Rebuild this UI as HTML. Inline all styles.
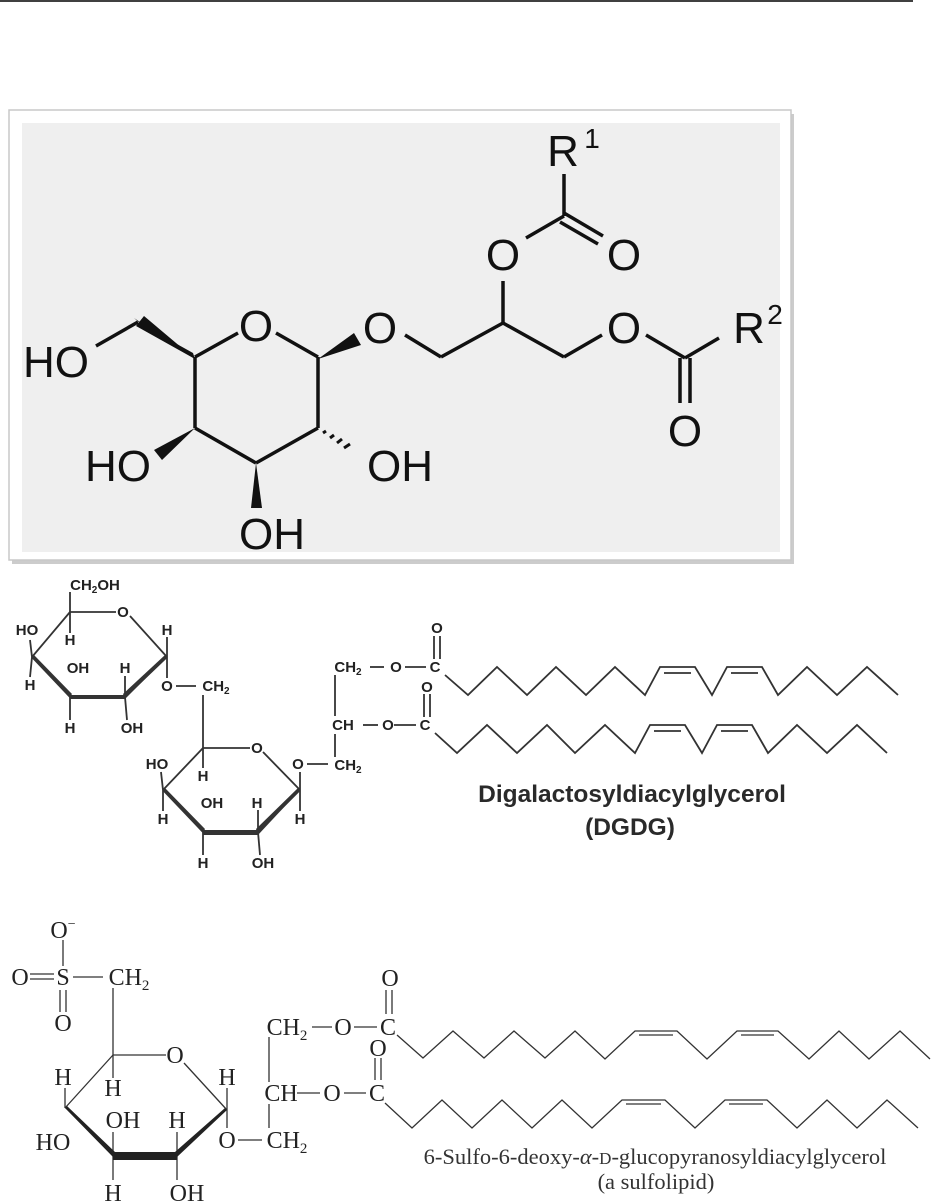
<!DOCTYPE html>
<html><head><meta charset="utf-8"><style>
html,body{margin:0;padding:0;background:#fff;}
svg{display:block;}
.a{font-family:"Liberation Sans",sans-serif;font-size:44px;fill:#111;}
.b{font-family:"Liberation Sans",sans-serif;font-size:15px;font-weight:bold;fill:#222;}
.s{font-family:"Liberation Serif",serif;font-size:24px;fill:#222;}
</style></head><body>
<svg width="931" height="1203" viewBox="0 0 931 1203" xmlns="http://www.w3.org/2000/svg">
<line x1="0" y1="1" x2="913" y2="1" stroke="#000" stroke-width="1.5"/>
<rect x="12" y="114" width="782" height="450" fill="#9a9a9a" opacity="0.5"/>
<rect x="9" y="110" width="782" height="450" fill="#fff" stroke="#c8c8c8" stroke-width="1.5"/>
<rect x="22" y="123" width="758" height="429" fill="#efefef"/>
<g stroke="#111" stroke-width="3.5" fill="none">
<line x1="195" y1="357" x2="238" y2="333"/>
<line x1="276" y1="333" x2="318" y2="357"/>
<line x1="318" y1="357" x2="318" y2="428"/>
<line x1="318" y1="428" x2="256" y2="463"/>
<line x1="256" y1="463" x2="195" y2="428"/>
<line x1="195" y1="428" x2="195" y2="357"/>
<line x1="138" y1="322" x2="96" y2="346"/>
<line x1="405" y1="335" x2="441" y2="357"/>
<line x1="441" y1="357" x2="503" y2="323"/>
<line x1="503" y1="323" x2="564" y2="357"/>
<line x1="564" y1="357" x2="602" y2="335"/>
<line x1="503" y1="323" x2="503" y2="281"/>
<line x1="526" y1="238" x2="564" y2="216"/>
<line x1="564" y1="216" x2="564" y2="174"/>
<line x1="564" y1="213" x2="603" y2="236"/>
<line x1="560" y1="222" x2="598" y2="244"/>
<line x1="646" y1="335" x2="685" y2="358"/>
<line x1="685" y1="358" x2="719" y2="338"/>
<line x1="680" y1="358" x2="680" y2="403"/>
<line x1="690" y1="358" x2="690" y2="403"/>
</g>
<g fill="#111">
<polygon points="195,359 134,318 141,324 193,353"/>
<polygon points="195,359 136,326 144,316"/>
<polygon points="318,359 354,333 361,345"/>
<polygon points="195,428 154,450 162,460"/>
<polygon points="256,463 251,508 262,508"/>
</g>
<g stroke="#111" stroke-width="3">
<line x1="323" y1="433" x2="326" y2="431"/>
<line x1="330" y1="438" x2="334" y2="435"/>
<line x1="337" y1="443" x2="342" y2="439"/>
<line x1="344" y1="448" x2="350" y2="444"/>
</g>
<text class="a" x="256" y="341" text-anchor="middle">O</text>
<text class="a" x="380" y="343" text-anchor="middle">O</text>
<text class="a" x="56" y="377" text-anchor="middle">HO</text>
<text class="a" x="118" y="481" text-anchor="middle">HO</text>
<text class="a" x="400" y="481" text-anchor="middle">OH</text>
<text class="a" x="272" y="549" text-anchor="middle">OH</text>
<text class="a" x="503" y="270" text-anchor="middle">O</text>
<text class="a" x="624" y="270" text-anchor="middle">O</text>
<text class="a" x="563" y="166" text-anchor="middle">R</text>
<text class="a" x="592" y="148" text-anchor="middle" style="font-size:28px">1</text>
<text class="a" x="624" y="343" text-anchor="middle">O</text>
<text class="a" x="749" y="343" text-anchor="middle">R</text>
<text class="a" x="775" y="324" text-anchor="middle" style="font-size:28px">2</text>
<text class="a" x="685" y="446" text-anchor="middle">O</text>

<g stroke="#333" stroke-width="1.8" fill="none">
<line x1="70" y1="612" x2="116" y2="612"/>
<line x1="130" y1="616" x2="167" y2="657"/>
<line x1="167" y1="657" x2="125" y2="697"/>
<line x1="70" y1="697" x2="32" y2="657"/>
<line x1="32" y1="657" x2="70" y2="612"/>
<line x1="70" y1="612" x2="70" y2="592"/>
<line x1="70" y1="612" x2="70" y2="633"/>
<line x1="32" y1="657" x2="30" y2="640"/>
<line x1="32" y1="657" x2="30" y2="677"/>
<line x1="70" y1="697" x2="70" y2="720"/>
<line x1="125" y1="697" x2="125" y2="676"/>
<line x1="125" y1="697" x2="127" y2="720"/>
<line x1="167" y1="657" x2="167" y2="637"/>
<line x1="167" y1="657" x2="167" y2="678"/>
<line x1="176" y1="686" x2="196" y2="686"/>
<line x1="203" y1="695" x2="203" y2="748"/>
<line x1="203" y1="748" x2="250" y2="748"/>
<line x1="263" y1="752" x2="300" y2="790"/>
<line x1="300" y1="790" x2="258" y2="832"/>
<line x1="203" y1="832" x2="163" y2="790"/>
<line x1="163" y1="790" x2="203" y2="748"/>
<line x1="203" y1="748" x2="203" y2="768"/>
<line x1="163" y1="790" x2="161" y2="772"/>
<line x1="163" y1="790" x2="163" y2="811"/>
<line x1="203" y1="832" x2="203" y2="855"/>
<line x1="258" y1="832" x2="258" y2="810"/>
<line x1="258" y1="832" x2="260" y2="855"/>
<line x1="300" y1="790" x2="300" y2="772"/>
<line x1="300" y1="790" x2="300" y2="811"/>
<line x1="307" y1="764" x2="328" y2="764"/>
<line x1="335" y1="675" x2="335" y2="716"/>
<line x1="335" y1="734" x2="335" y2="757"/>
<line x1="370" y1="667" x2="384" y2="667"/>
<line x1="363" y1="725" x2="378" y2="725"/>
<line x1="405" y1="667" x2="426" y2="667"/>
<line x1="394" y1="725" x2="416" y2="725"/>
<line x1="434" y1="636" x2="434" y2="659"/>
<line x1="440" y1="636" x2="440" y2="659"/>
<line x1="424" y1="694" x2="424" y2="717"/>
<line x1="430" y1="694" x2="430" y2="717"/>
<polyline points="445,675 468,695 497,667 527,695 556,667 586,695 615,667 645,695 660,667 695,667 712,695 727,667 762,667 778,695 807,667 837,695 867,667 898,695"/>
<line x1="664" y1="673" x2="691" y2="673"/>
<line x1="731" y1="673" x2="758" y2="673"/>
<polyline points="435,733 457,753 487,725 517,753 547,725 575,753 605,725 635,753 650,725 685,725 702,753 717,725 752,725 768,753 797,725 827,753 857,725 887,753"/>
<line x1="654" y1="731" x2="681" y2="731"/>
<line x1="721" y1="731" x2="748" y2="731"/>
</g>
<g fill="#333">
<polygon points="70,695 125,695 125,699 70,699"/>
<polygon points="70,697 32,657 34,655 72,694"/>
<polygon points="125,699 167,657 165,655 123,694"/>
<polygon points="203,830 258,830 258,835 203,835"/>
<polygon points="203,833 163,790 165,788 205,829"/>
<polygon points="258,835 300,790 298,788 256,829"/>
</g>
<g class="b" text-anchor="middle">
<text x="95" y="590">CH<tspan font-size="10" dy="3">2</tspan><tspan dy="-3">OH</tspan></text>
<text x="123" y="617">O</text>
<text x="27" y="635">HO</text>
<text x="70" y="645">H</text>
<text x="167" y="635">H</text>
<text x="30" y="690">H</text>
<text x="78" y="673">OH</text>
<text x="125" y="673">H</text>
<text x="70" y="733">H</text>
<text x="132" y="733">OH</text>
<text x="167" y="691">O</text>
<text x="216" y="691">CH<tspan font-size="10" dy="3">2</tspan></text>
<text x="257" y="753">O</text>
<text x="157" y="769">HO</text>
<text x="203" y="781">H</text>
<text x="212" y="808">OH</text>
<text x="257" y="808">H</text>
<text x="163" y="824">H</text>
<text x="300" y="824">H</text>
<text x="203" y="868">H</text>
<text x="263" y="868">OH</text>
<text x="298" y="769">O</text>
<text x="348" y="770">CH<tspan font-size="10" dy="3">2</tspan></text>
<text x="348" y="672">CH<tspan font-size="10" dy="3">2</tspan></text>
<text x="396" y="672">O</text>
<text x="435" y="672">C</text>
<text x="437" y="633">O</text>
<text x="343" y="730">CH</text>
<text x="388" y="730">O</text>
<text x="425" y="730">C</text>
<text x="427" y="692">O</text>
</g>
<text x="632" y="802" text-anchor="middle" style="font-family:'Liberation Sans',sans-serif;font-weight:bold;font-size:24.5px;fill:#2a2a2a">Digalactosyldiacylglycerol</text>
<text x="630" y="835" text-anchor="middle" style="font-family:'Liberation Sans',sans-serif;font-weight:bold;font-size:24.5px;fill:#2a2a2a">(DGDG)</text>

<g stroke="#333" stroke-width="1.3" fill="none">
<line x1="63" y1="940" x2="63" y2="966"/>
<line x1="30" y1="974" x2="54" y2="974"/>
<line x1="30" y1="979" x2="54" y2="979"/>
<line x1="60" y1="990" x2="60" y2="1012"/>
<line x1="66" y1="990" x2="66" y2="1012"/>
<line x1="73" y1="977" x2="103" y2="977"/>
<line x1="113" y1="988" x2="113" y2="1055"/>
<line x1="113" y1="1055" x2="166" y2="1055"/>
<line x1="184" y1="1063" x2="227" y2="1110"/>
<line x1="113" y1="1055" x2="65" y2="1108"/>
<line x1="113" y1="1055" x2="113" y2="1078"/>
<line x1="65" y1="1108" x2="65" y2="1088"/>
<line x1="113" y1="1157" x2="113" y2="1180"/>
<line x1="177" y1="1157" x2="177" y2="1132"/>
<line x1="177" y1="1157" x2="177" y2="1180"/>
<line x1="113" y1="1157" x2="113" y2="1132"/>
<line x1="227" y1="1110" x2="227" y2="1088"/>
<line x1="227" y1="1110" x2="227" y2="1128"/>
<line x1="238" y1="1140" x2="262" y2="1140"/>
<line x1="269" y1="1037" x2="269" y2="1082"/>
<line x1="269" y1="1104" x2="269" y2="1128"/>
<line x1="312" y1="1027" x2="332" y2="1027"/>
<line x1="354" y1="1027" x2="377" y2="1027"/>
<line x1="297" y1="1093" x2="320" y2="1093"/>
<line x1="344" y1="1093" x2="366" y2="1093"/>
<line x1="386" y1="990" x2="386" y2="1014"/>
<line x1="392" y1="990" x2="392" y2="1014"/>
<line x1="375" y1="1058" x2="375" y2="1080"/>
<line x1="381" y1="1058" x2="381" y2="1080"/>
<polyline points="397,1035 423,1058 453,1031 484,1058 514,1031 545,1058 575,1031 605,1059 635,1031 677,1031 707,1059 737,1031 778,1031 809,1059 839,1031 869,1059 900,1031 930,1059"/>
<line x1="639" y1="1035" x2="673" y2="1035"/>
<line x1="741" y1="1035" x2="774" y2="1035"/>
<polyline points="385,1103 412,1128 442,1100 472,1128 502,1100 532,1128 562,1100 592,1128 622,1100 665,1100 695,1128 725,1100 767,1100 797,1128 827,1100 857,1128 887,1100 918,1128"/>
<line x1="626" y1="1104" x2="661" y2="1104"/>
<line x1="729" y1="1104" x2="763" y2="1104"/>
</g>
<polygon points="65,1108 113,1157 177,1157 227,1110 225,1108 175,1152 115,1152 67,1106" fill="#222"/>
<polygon points="113,1152 177,1152 177,1160 113,1160" fill="#222"/>
<g class="s" text-anchor="middle">
<text x="63" y="938">O<tspan font-size="14" dy="-10">−</tspan></text>
<text x="63" y="985">S</text>
<text x="20" y="985">O</text>
<text x="63" y="1031">O</text>
<text x="129" y="985">CH<tspan font-size="15" dy="5">2</tspan></text>
<text x="175" y="1063">O</text>
<text x="63" y="1085">H</text>
<text x="113" y="1096">H</text>
<text x="227" y="1085">H</text>
<text x="123" y="1128">OH</text>
<text x="177" y="1128">H</text>
<text x="53" y="1150">HO</text>
<text x="227" y="1148">O</text>
<text x="287" y="1148">CH<tspan font-size="15" dy="5">2</tspan></text>
<text x="113" y="1201">H</text>
<text x="187" y="1201">OH</text>
<text x="287" y="1035">CH<tspan font-size="15" dy="5">2</tspan></text>
<text x="343" y="1035">O</text>
<text x="388" y="1035">C</text>
<text x="390" y="986">O</text>
<text x="281" y="1101">CH</text>
<text x="332" y="1101">O</text>
<text x="377" y="1101">C</text>
<text x="378" y="1056">O</text>
</g>
<text x="655" y="1164" text-anchor="middle" style="font-family:'Liberation Serif',serif;font-size:22.5px;fill:#333">6-Sulfo-6-deoxy-<tspan font-style="italic">α</tspan>-<tspan font-size="17">D</tspan>-glucopyranosyldiacylglycerol</text>
<text x="656" y="1189" text-anchor="middle" style="font-family:'Liberation Serif',serif;font-size:22.5px;fill:#333">(a sulfolipid)</text>
</svg>
</body></html>
